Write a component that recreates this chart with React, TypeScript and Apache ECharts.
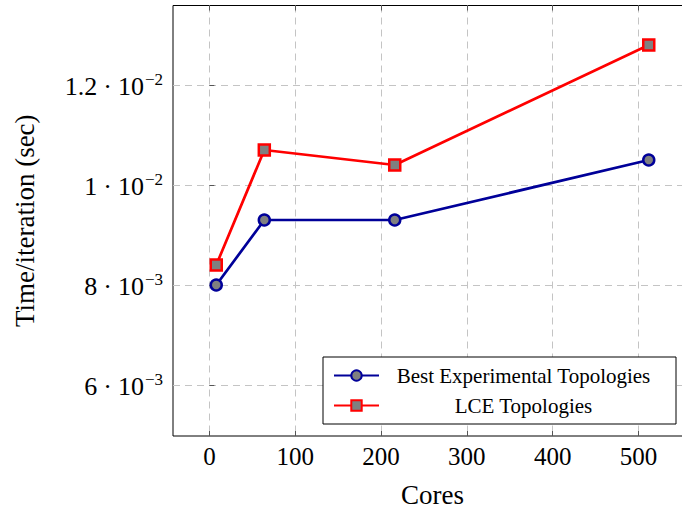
import React, { useEffect, useRef } from "react";
import * as echarts from "echarts";

const cores = [8, 64, 216, 512];
const bestTimes = [0.008, 0.0093, 0.0093, 0.0105];
const lceTimes = [0.0084, 0.0107, 0.0104, 0.0128];
const seriesNames = ["Best Experimental Topologies", "LCE Topologies"];
const xTickValues = [0, 100, 200, 300, 400, 500];
const yTickValues = [0.006, 0.008, 0.01, 0.012];
const yTickMantissa = ["6", "8", "1", "1.2"];
const yTickExponent = ["−3", "−3", "−2", "−2"];

const FONT = "'Liberation Serif', 'DejaVu Serif', serif";

export default function App() {
  const ref = useRef<HTMLDivElement>(null);
  useEffect(() => {
    if (!ref.current) return;
    const chart = echarts.init(ref.current, null, { renderer: "svg" });
    const gridLine = { show: true, lineStyle: { color: "#c4c4c4", width: 1, type: [7, 5] as any } };
    chart.setOption({
      animation: false,
      backgroundColor: "#ffffff",
      grid: {
        left: 173,
        top: 5.5,
        right: 8,
        bottom: 78,
        show: true,
        borderColor: "#000",
        borderWidth: 1,
        backgroundColor: "transparent",
      },
      legend: {
        orient: "vertical",
        left: 323,
        top: 357,
        backgroundColor: "#fff",
        borderColor: "#000",
        borderWidth: 1,
        padding: [8, 13, 8, 10],
        itemWidth: 45,
        itemHeight: 13,
        itemGap: 9,
        data: seriesNames,
        formatter: (name: string) => `{t|${name}}`,
        textStyle: {
          fontFamily: FONT,
          fontSize: 21,
          color: "#000",
          rich: {
            t: { fontFamily: FONT, fontSize: 21, lineHeight: 23, color: "#000", width: 279, align: "center" },
          },
        },
      },
      xAxis: [
        {
          type: "value",
          min: -42.4,
          max: 562.4,
          name: "Cores",
          nameLocation: "middle",
          nameGap: 45,
          nameTextStyle: { fontFamily: FONT, fontSize: 27, color: "#000" },
          axisLine: { show: false },
          axisTick: { show: true, inside: true, length: 5, customValues: xTickValues, lineStyle: { color: "#555" } },
          axisLabel: {
            customValues: xTickValues,
            fontFamily: FONT,
            fontSize: 25,
            color: "#000",
            margin: 8,
          },
          splitLine: gridLine,
        },
        {
          type: "value",
          position: "top",
          min: -42.4,
          max: 562.4,
          axisLine: { show: false },
          axisTick: { show: true, inside: true, length: 5, customValues: xTickValues, lineStyle: { color: "#555" } },
          axisLabel: { show: false },
          splitLine: { show: false },
        },
      ],
      yAxis: {
        type: "value",
        min: 0.00498,
        max: 0.01359,
        name: "Time/iteration (sec)",
        nameLocation: "middle",
        nameGap: 135,
        nameTextStyle: { fontFamily: FONT, fontSize: 27, color: "#000" },
        axisLine: { show: false },
        axisTick: { show: true, inside: true, length: 5, customValues: yTickValues, lineStyle: { color: "#555" } },
        axisLabel: {
          customValues: yTickValues,
          margin: 10,
          formatter: (v: number) => {
            const i = yTickValues.findIndex((t) => Math.abs(t - v) < 1e-9);
            if (i < 0) return "";
            return `{m|${yTickMantissa[i]}}{d|·}{m|10}{e|${yTickExponent[i]}}`;
          },
          rich: {
            m: { fontFamily: FONT, fontSize: 26, color: "#000", verticalAlign: "bottom" },
            d: { fontFamily: FONT, fontSize: 26, color: "#000", verticalAlign: "bottom", padding: [0, 6, 0, 6] },
            e: { fontFamily: FONT, fontSize: 17, color: "#000", verticalAlign: "top", padding: [0, 0, 12, 1] },
          },
        },
        splitLine: gridLine,
      },
      series: [
        {
          name: seriesNames[0],
          type: "line",
          data: cores.map((c, i) => [c, bestTimes[i]]),
          symbol: "circle",
          symbolSize: 11,
          lineStyle: { color: "#000099", width: 2.7 },
          itemStyle: { color: "#808080", borderColor: "#000099", borderWidth: 2.5 },
          z: 3,
        },
        {
          name: seriesNames[1],
          type: "line",
          data: cores.map((c, i) => [c, lceTimes[i]]),
          symbol: "rect",
          symbolSize: 11,
          lineStyle: { color: "#ff0000", width: 2.7 },
          itemStyle: { color: "#808080", borderColor: "#ff0000", borderWidth: 2.5 },
          z: 3,
        },
      ],
    });
    return () => chart.dispose();
  }, []);
  return (
    <div
      ref={ref}
      style={{ position: "fixed", left: 0, top: 0, width: 700, height: 514, background: "#fff" }}
    />
  );
}
